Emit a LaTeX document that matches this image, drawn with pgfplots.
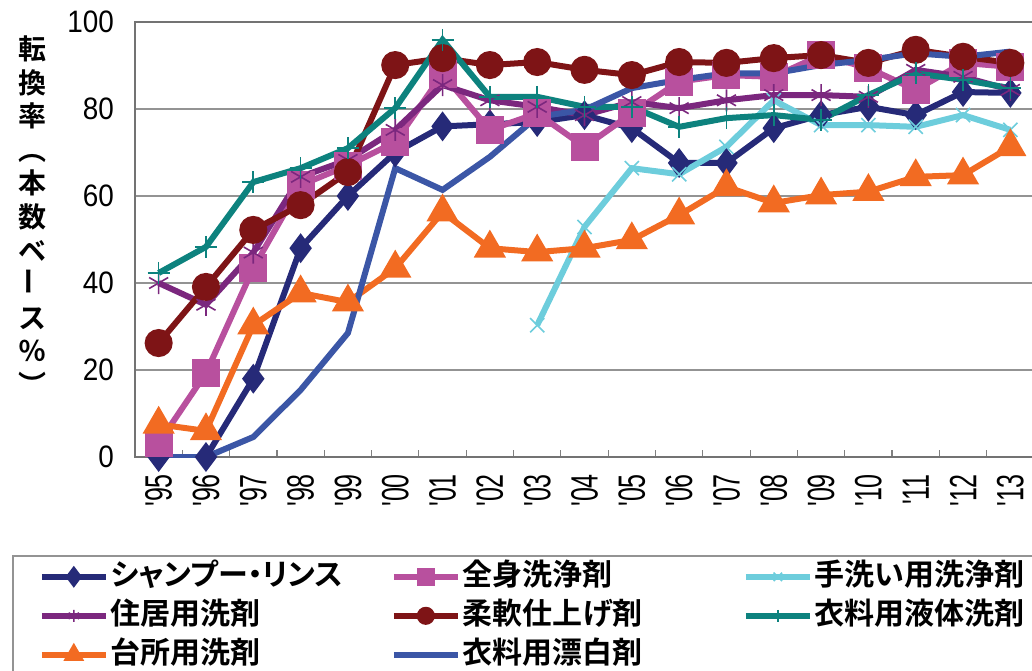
\documentclass[border=0pt]{standalone}
\usepackage{fontspec}
\usepackage{graphicx}
\usepackage{pgfplots}
\pgfplotsset{compat=1.18}
\setmainfont{Liberation Sans}
\newfontfamily\numf{Liberation Sans}[FakeStretch=0.9]
\newfontfamily\numx{Liberation Sans}[FakeStretch=0.66]
\newfontfamily\jpb{Noto Sans CJK JP Bold}[RawFeature=+palt]
\definecolor{cNavy}{RGB}{38,42,120}
\definecolor{cPink}{RGB}{184,80,158}
\definecolor{cCyan}{RGB}{109,205,220}
\definecolor{cPurple}{RGB}{123,39,126}
\definecolor{cRed}{RGB}{126,20,22}
\definecolor{cTeal}{RGB}{13,130,126}
\definecolor{cOrange}{RGB}{242,107,34}
\definecolor{cBlue}{RGB}{59,86,166}
\begin{document}
\begin{tikzpicture}
\begin{axis}[
  at={(67.5pt,106.5pt)}, anchor=south west,
  scale only axis, width=449.5pt, height=217.5pt,
  xmin=-0.5, xmax=18.5, ymin=0, ymax=100,
  xtick={0,...,18},
  xticklabels={'95,'96,'97,'98,'99,'00,'01,'02,'03,'04,'05,'06,'07,'08,'09,'10,'11,'12,'13},
  minor xtick={0.5,1.5,...,17.5},
  xtick pos=left,
  major x tick style={draw=none},
  minor tick length=3.5pt,
  minor x tick style={gray, line width=0.6pt},
  ytick={0,20,40,60,80,100},
  ytick pos=left,
  major y tick style={draw=none},
  ymajorgrids,
  grid style={gray!85, line width=0.75pt},
  axis line style={gray!90!black, line width=1pt},
  /pgf/number format/assume math mode=true,
  yticklabel style={font=\numf\fontsize{15.5pt}{16pt}\selectfont, xshift=-7pt},
  xticklabel style={font=\numx\fontsize{19pt}{19pt}\selectfont, rotate=90, anchor=east, xshift=-5pt},
  ylabel={転\\換\\率\\︵\\本\\数\\ベ\\\rotatebox{90}{ー}\\ス\\％\\︶},
  ylabel style={rotate=-90, at={(axis description cs:-0.1135,0.555)}, anchor=center, align=center,
    font=\jpb\fontsize{14pt}{16.8pt}\selectfont},
  legend columns=3,
  legend style={at={(axis description cs:-0.1368,-0.2253)}, anchor=north west,
    draw=gray!85, line width=0.8pt, inner xsep=13pt, inner ysep=2pt, row sep=2.5pt,
    font=\jpb\fontsize{15pt}{15pt}\selectfont,
    nodes={text width=139pt, align=left, inner sep=1pt, text height=12pt, text depth=3pt}},
  legend image code/.code={
    \draw[mark repeat=2, mark phase=2, #1, mark size=3pt]
      plot coordinates {(0pt,0pt) (16pt,0pt) (32pt,0pt)};
  },
  every axis plot/.append style={line width=3pt},
]
% シャンプー・リンス
\addplot[cNavy, mark=diamond*, mark size=5pt] coordinates {
(0,0)(1,0)(2,18)(3,48)(4,60)(5,70)(6,76)(7,76.5)(8,77)(9,78.6)(10,75.6)(11,67.6)(12,67.6)(13,75.6)(14,78.6)(15,80.5)(16,78.6)(17,83.9)(18,83.7)};
\addlegendentry{シャンプー・リンス}
% 全身洗浄剤
\addplot[cPink, mark=square*, mark size=5.5pt] coordinates {
(0,3.2)(1,19.3)(2,43.4)(3,62.5)(4,67)(5,72.4)(6,88)(7,75.2)(8,79)(9,71.3)(10,79)(11,86.3)(12,87.8)(13,87.4)(14,92.4)(15,89.4)(16,84.4)(17,90.6)(18,89.7)};
\addlegendentry{全身洗浄剤}
% 手洗い用洗浄剤
\addplot[cCyan, mark=x, mark size=5pt, mark options={line width=0.8pt}] coordinates {
(8,30.3)(9,52.9)(10,66.4)(11,65)(12,71.3)(13,82)(14,76.3)(15,76.3)(16,75.9)(17,78.6)(18,75.2)};
\addlegendentry{手洗い用洗浄剤}
% 住居用洗剤
\addplot[cPurple, mark=asterisk, mark size=5.5pt, mark options={line width=0.8pt}] coordinates {
(0,40)(1,35)(2,47)(3,64.4)(4,68.3)(5,75.2)(6,85.5)(7,82)(8,80.5)(9,78.6)(10,81.6)(11,80.2)(12,82)(13,83.2)(14,83.2)(15,82.8)(16,89)(17,87.4)(18,84.4)};
\addlegendentry{住居用洗剤}
% 柔軟仕上げ剤
\addplot[cRed, mark=*, mark size=5.5pt] coordinates {
(0,26.2)(1,39.1)(2,52.2)(3,57.9)(4,65.5)(5,90.1)(6,91.7)(7,90.1)(8,90.8)(9,89)(10,87.8)(11,90.8)(12,90.6)(13,91.7)(14,92.4)(15,90.6)(16,93.6)(17,92)(18,90.6)};
\addlegendentry{柔軟仕上げ剤}
% 衣料用液体洗剤
\addplot[cTeal, mark=+, mark size=5.5pt, mark options={line width=0.8pt}] coordinates {
(0,42.3)(1,48.3)(2,63.2)(3,66.4)(4,71)(5,80.2)(6,95.9)(7,82.8)(8,82.8)(9,80.5)(10,80.5)(11,75.9)(12,77.9)(13,78.6)(14,77.5)(15,83.2)(16,88.2)(17,86.7)(18,84.8)};
\addlegendentry{衣料用液体洗剤}
% 台所用洗剤
\addplot[cOrange, mark=triangle*, mark size=6.3pt] coordinates {
(0,7.5)(1,6)(2,30.3)(3,37.7)(4,35.6)(5,43.4)(6,56.3)(7,48)(8,47.1)(9,48)(10,49.9)(11,55.6)(12,62.1)(13,58.4)(14,60.2)(15,61)(16,64.4)(17,64.8)(18,71.3)};
\addlegendentry{台所用洗剤}
% 衣料用漂白剤
\addplot[cBlue, mark=none] coordinates {
(0,0)(1,0)(2,4.6)(3,15.4)(4,28.5)(5,66.4)(6,61.4)(7,69)(8,78.2)(9,79.8)(10,84.8)(11,86.7)(12,88.2)(13,88.2)(14,90.1)(15,91.3)(16,92.8)(17,92)(18,93.2)};
\addlegendentry{衣料用漂白剤}
\end{axis}
\pgfresetboundingbox
\path[use as bounding box] (0,0) rectangle (516pt,335pt);
\end{tikzpicture}
\end{document}
